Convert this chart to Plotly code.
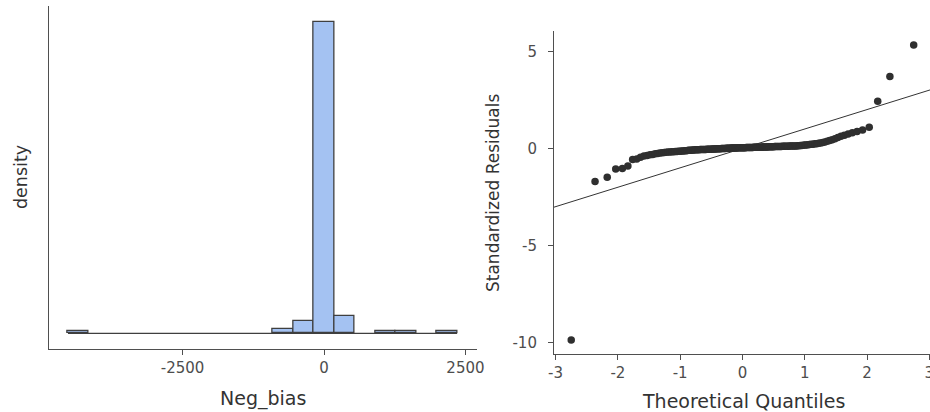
import plotly.graph_objects as go
from statistics import NormalDist

# ---------------- data ----------------
# Histogram of Neg_bias (bin width and bin centres, counts per bin)
bin_width = 362
bin_centers = [-4344, -724, -362, 0, 362, 1086, 1448, 2172]
bin_counts = [1, 2, 6, 147, 8, 1, 1, 1]
hist_xticks = [-2500, 0, 2500]
hist_xticklabels = ["-2500", "0", "2500"]

# Sorted standardized residuals
residuals = [
    -9.86, -1.71, -1.49, -1.06, -1.04, -0.91, -0.57, -0.55, -0.45, -0.39,
    -0.36, -0.33, -0.31, -0.28, -0.26, -0.24, -0.22,
    -0.21, -0.20, -0.19, -0.18, -0.175, -0.17, -0.16, -0.155, -0.15, -0.14,
    -0.135, -0.13, -0.12, -0.115, -0.11, -0.10, -0.095, -0.09, -0.085, -0.08,
    -0.075, -0.07,
    -0.068, -0.065, -0.062, -0.06, -0.057, -0.055, -0.052, -0.05, -0.047, -0.044,
    -0.042, -0.04, -0.037, -0.034, -0.031, -0.029, -0.026, -0.023, -0.021, -0.018,
    -0.015, -0.013, -0.01, -0.008, -0.005, -0.003, 0.0, 0.002, 0.005, 0.008,
    0.011, 0.014,
    0.016, 0.018, 0.02, 0.021, 0.023, 0.025, 0.026, 0.028, 0.03, 0.031,
    0.033, 0.034, 0.036, 0.037, 0.039, 0.04, 0.042, 0.043, 0.045, 0.046,
    0.048, 0.049, 0.051, 0.052, 0.054, 0.055, 0.057, 0.058, 0.06, 0.061,
    0.063, 0.064, 0.066, 0.068, 0.07,
    0.072, 0.074, 0.076, 0.078, 0.08, 0.082, 0.084, 0.086, 0.088, 0.09,
    0.092, 0.094, 0.096, 0.098, 0.1, 0.102, 0.104, 0.106, 0.108, 0.11,
    0.112, 0.114, 0.116, 0.118, 0.12, 0.122, 0.124, 0.127, 0.13,
    0.135, 0.14, 0.15, 0.155, 0.16, 0.17, 0.18, 0.19, 0.2, 0.21,
    0.22, 0.235, 0.245, 0.26, 0.275,
    0.3, 0.33, 0.37, 0.41, 0.45, 0.5,
    0.56, 0.62, 0.68, 0.74,
    0.81, 0.87, 0.95, 1.09,
    2.43, 3.70, 5.32,
]
qq_xticks = [-3, -2, -1, 0, 1, 2, 3]
qq_xticklabels = ["-3", "-2", "-1", "0", "1", "2", "3"]
qq_yticks = [-10, -5, 0, 5]
qq_yticklabels = ["-10", "-5", "0", "5"]

# ---------------- derived (stat transforms) ----------------
n = len(residuals)
nd = NormalDist()
theoretical = [nd.inv_cdf((i + 0.5) / n) for i in range(n)]

left_edge = bin_centers[0] - bin_width / 2
right_edge = bin_centers[-1] + bin_width / 2
span = right_edge - left_edge
hist_xrange = [left_edge - 0.05 * span, right_edge + 0.05 * span]
hist_yrange = [-0.05 * max(bin_counts), 1.05 * max(bin_counts)]

qq_xrange = [-3.025, 3.01]
qq_yrange = [-10.6, 6.06]

# ---------------- styles ----------------
FONT = "DejaVu Sans"
AXIS_COL = "#4f4f4f"
TICK_TXT = "#4d4d4d"
TITLE_COL = "#333333"
BAR_FILL = "#a4c2f2"
BAR_LINE = "#3f3f3f"
DOT_COL = "#2f2f2f"

fig = go.Figure()

# baseline of empty bins
fig.add_trace(go.Scatter(
    x=[left_edge, right_edge], y=[0, 0], mode="lines",
    line=dict(color=BAR_LINE, width=1.1), xaxis="x", yaxis="y",
    showlegend=False, hoverinfo="skip"))

fig.add_trace(go.Bar(
    x=bin_centers, y=bin_counts, width=[bin_width] * len(bin_centers),
    marker=dict(color=BAR_FILL, line=dict(color=BAR_LINE, width=1.3)),
    xaxis="x", yaxis="y", showlegend=False))

# reference line y = x
fig.add_trace(go.Scatter(
    x=qq_xrange, y=qq_xrange, mode="lines",
    line=dict(color="#333333", width=1), xaxis="x2", yaxis="y2",
    showlegend=False, hoverinfo="skip", cliponaxis=True))

fig.add_trace(go.Scatter(
    x=theoretical, y=residuals, mode="markers",
    marker=dict(color=DOT_COL, size=7.5, line=dict(width=0)),
    xaxis="x2", yaxis="y2", showlegend=False))

W, H = 930, 412

def px_x(p):
    return p / W

def px_y(p):
    return (H - p) / H

common_axis = dict(
    showgrid=False, zeroline=False, showline=True, linecolor=AXIS_COL,
    linewidth=1.1, ticks="outside", ticklen=5, tickcolor=AXIS_COL, tickwidth=1.1,
    tickfont=dict(family=FONT, size=15, color=TICK_TXT), automargin=False,
)

fig.update_layout(
    width=W, height=H,
    margin=dict(l=0, r=0, t=0, b=0, autoexpand=False),
    paper_bgcolor="white", plot_bgcolor="white",
    bargap=0,
    font=dict(family=FONT),
    xaxis=dict(domain=[px_x(48.5), px_x(476.6)], range=hist_xrange,
               tickvals=hist_xticks, ticktext=hist_xticklabels, anchor="y",
               **common_axis),
    yaxis=dict(domain=[px_y(349), px_y(6)], range=hist_yrange,
               anchor="x", showticklabels=False,
               **{k: v for k, v in common_axis.items() if k not in ("ticks",)},
               ticks=""),
    xaxis2=dict(domain=[px_x(554), 1.0], range=qq_xrange, tickvals=qq_xticks,
                ticktext=qq_xticklabels, anchor="y2", ticklabeloverflow="allow",
                **common_axis),
    yaxis2=dict(domain=[px_y(354.3), px_y(30.7)], range=qq_yrange,
                tickvals=qq_yticks, ticktext=qq_yticklabels, anchor="x2",
                ticklabelstandoff=8, **common_axis),
    annotations=[
        dict(text="Neg_bias", xref="paper", yref="paper",
             x=px_x(263), y=px_y(398), xanchor="center", yanchor="middle",
             showarrow=False, font=dict(family=FONT, size=19, color=TITLE_COL)),
        dict(text="density", xref="paper", yref="paper",
             x=px_x(21), y=px_y(177), xanchor="center", yanchor="middle",
             textangle=-90, showarrow=False,
             font=dict(family=FONT, size=17.5, color=TITLE_COL)),
        dict(text="Theoretical Quantiles", xref="paper", yref="paper",
             x=px_x(743), y=px_y(401), xanchor="center", yanchor="middle",
             showarrow=False, font=dict(family=FONT, size=19, color=TITLE_COL)),
        dict(text="Standardized Residuals", xref="paper", yref="paper",
             x=px_x(493), y=px_y(193), xanchor="center", yanchor="middle",
             textangle=-90, showarrow=False,
             font=dict(family=FONT, size=17, color=TITLE_COL)),
    ],
)

fig.write_html(
    "out.html",
    config={"displayModeBar": False},
    post_script="document.body.style.margin='0';document.body.style.overflow='hidden';",
)
